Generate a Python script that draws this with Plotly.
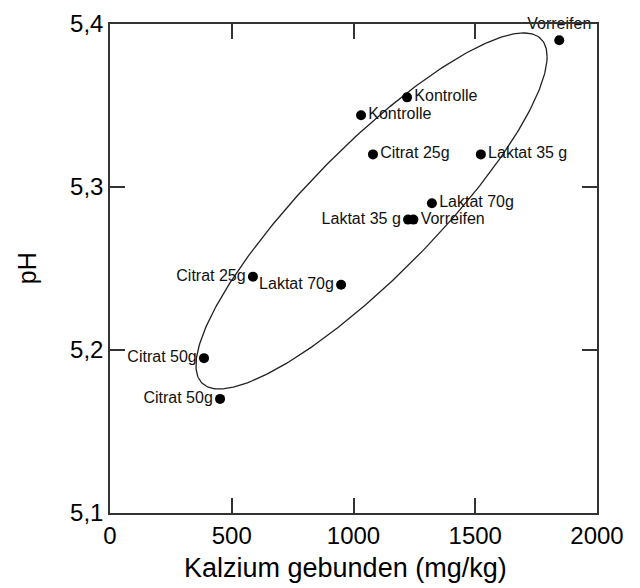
import numpy as np
import plotly.graph_objects as go

# --- data ---
calcium = [1845, 1220, 1031, 1080, 1523, 1322, 1224, 1246, 587, 949, 386, 452]
ph = [5.39, 5.355, 5.344, 5.32, 5.32, 5.29, 5.28, 5.28, 5.245, 5.24, 5.195, 5.17]
labels = ["Vorreifen", "Kontrolle", "Kontrolle", "Citrat 25g", "Laktat 35 g", "Laktat 70g",
          "Laktat 35 g", "Vorreifen", "Citrat 25g", "Laktat 70g", "Citrat 50g", "Citrat 50g"]
label_pos = ["top center", "middle right", "middle right", "middle right", "middle right", "middle right",
             "middle left", "middle right", "middle left", "middle left", "middle left", "middle left"]

x_ticks = [0, 500, 1000, 1500, 2000]
y_ticks = [5.1, 5.2, 5.3, 5.4]
x_title = "Kalzium gebunden (mg/kg)"
y_title = "pH"

# ellipse parameters (centre, spreads, correlation)
ell_cx, ell_cy = 1074, 5.2853
ell_sx, ell_sy = 721, 0.1092
ell_rho = 0.867

t = np.linspace(0, 2 * np.pi, 361)
ex = ell_cx + ell_sx * np.cos(t)
ey = ell_cy + ell_sy * (ell_rho * np.cos(t) + np.sqrt(1 - ell_rho ** 2) * np.sin(t))

FONT = "Liberation Sans, Arial, sans-serif"

fig = go.Figure()
fig.add_trace(go.Scatter(x=ex, y=ey, mode="lines", line=dict(color="#222", width=1.3),
                         hoverinfo="skip", showlegend=False))
fig.add_trace(go.Scatter(
    x=calcium, y=ph, mode="markers+text", text=labels, textposition=label_pos,
    marker=dict(color="black", size=10),
    textfont=dict(family=FONT, size=16, color="#111"),
    showlegend=False, cliponaxis=False))

axis_common = dict(showline=True, linecolor="#333", linewidth=1.5, mirror="ticks",
                   ticks="inside", ticklen=15, tickwidth=1.5, tickcolor="#333",
                   showgrid=False, zeroline=False, automargin=False,
                   tickfont=dict(family=FONT, size=24, color="black"))

fig.update_layout(
    width=640, height=588,
    margin=dict(l=102, r=51, t=16, b=83),
    paper_bgcolor="white", plot_bgcolor="white",
    separators=", ",
    xaxis=dict(range=[0, 2000], tickvals=x_ticks, tickformat="d", **axis_common),
    yaxis=dict(range=[5.1, 5.4], tickvals=y_ticks, tickformat=".1f", **axis_common),
    annotations=[
        dict(text=x_title, xref="paper", yref="paper", x=0.4836, y=-0.1125,
             xanchor="center", yanchor="middle", showarrow=False,
             font=dict(family=FONT, size=27, color="black")),
        dict(text=y_title, xref="paper", yref="paper", x=-0.170, y=0.501, textangle=-90,
             xanchor="center", yanchor="middle", showarrow=False,
             font=dict(family=FONT, size=25, color="black")),
    ],
)

fig.write_html("out.html")
